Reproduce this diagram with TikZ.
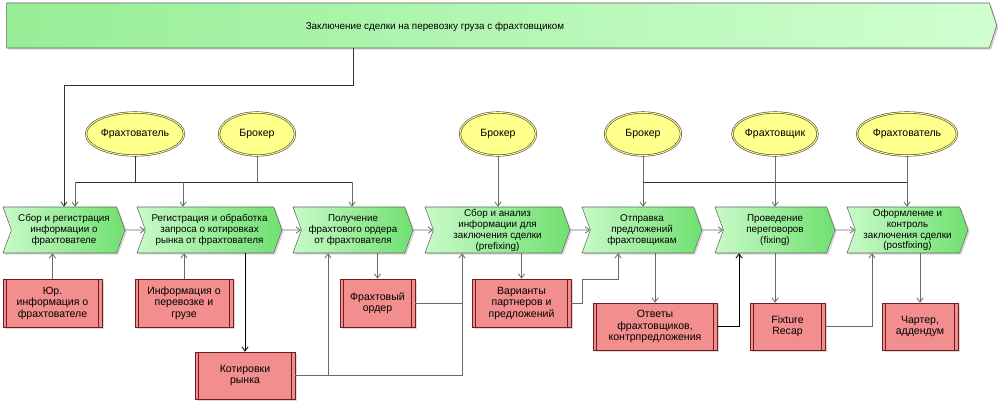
\documentclass[tikz,border=0pt]{standalone}
\usepackage{fontspec}
\setmainfont{Liberation Sans}
\usetikzlibrary{shapes,shapes.symbols,arrows.meta,positioning,calc,shadows}
\definecolor{bannerleft}{RGB}{150,238,150}
\definecolor{bannerright}{RGB}{208,255,208}
\definecolor{funcleft}{RGB}{200,250,200}
\definecolor{funcright}{RGB}{112,224,112}
\definecolor{actorfill}{RGB}{255,255,140}
\definecolor{datafill}{RGB}{242,142,142}
\definecolor{dataline}{RGB}{110,30,30}
\definecolor{linkgray}{RGB}{105,105,105}

\begin{document}
\begin{tikzpicture}[x=0.25mm, y=-0.25mm,
        txt/.style={font=\fontsize{7}{7.8}\selectfont},
        bigtxt/.style={font=\fontsize{7.5}{8.2}\selectfont},
        banner/.style={shape=signal, signal to=east, signal pointer angle=144, draw=black!60, left color=bannerleft, right color=bannerright, minimum width=247.5mm, minimum height=11.25mm, drop shadow={shadow xshift=1.2pt, shadow yshift=-1.2pt, fill=black!35}},
        func/.style={shape=signal, signal to=east, signal from=west, signal pointer angle=140, draw=black!60, left color=funcleft, right color=funcright, minimum height=11.5mm, inner sep=0.5pt, align=center, txt, drop shadow={shadow xshift=1.2pt, shadow yshift=-1.2pt, fill=black!30}},
        actor/.style={ellipse, draw=black!75, double=actorfill, double distance=0.7pt, fill=actorfill, minimum width=19mm, minimum height=10.75mm, inner sep=0pt, bigtxt},
        info/.style={rectangle, draw=dataline, fill=datafill, align=center, minimum height=12mm, inner sep=1pt, bigtxt, drop shadow={shadow xshift=1.2pt, shadow yshift=-1.2pt, fill=black!30},
            path picture={\draw[dataline] ([xshift=2.5pt]path picture bounding box.north west) -- ([xshift=2.5pt]path picture bounding box.south west);
                          \draw[dataline] ([xshift=-2.5pt]path picture bounding box.north east) -- ([xshift=-2.5pt]path picture bounding box.south east);}},
        arrow/.style={-{Straight Barb[length=3pt,width=4.5pt]}, linkgray, semithick},
        link/.style={linkgray, semithick}]

      \useasboundingbox (0,0) rectangle (998,405);

      % process header
      \node[banner] (banner) at (498,25.5) {};
      \node[txt] (title) at (435,26.5) {Заключение сделки на перевозку груза с фрахтовщиком};

      % actors
      \node[actor, minimum width=24.5mm] (act1) at (135,134) {Фрахтователь};
      \node[actor] (act2) at (257,134) {Брокер};
      \node[actor] (act3) at (498,134) {Брокер};
      \node[actor] (act4) at (643,134) {Брокер};
      \node[actor] (act5) at (775,134) {Фрахтовщик};
      \node[actor, minimum width=25mm] (act6) at (907,134) {Фрахтователь};

      % functions
      \node[func, minimum width=30.5mm] (box1) at (64,230) {Сбор и регистрация\\информации о\\фрахтователе};
      \node[func, minimum width=36.25mm] (box2) at (209.5,230) {Регистрация и обработка\\запроса о котировках\\рынка от фрахтователя};
      \node[func, minimum width=30mm] (box3) at (353,230) {Получение\\фрахтового ордера\\от фрахтователя};
      \node[func, minimum width=36.25mm] (box4) at (497.5,230) {Сбор и анализ\\информации для\\заключения сделки\\(prefixing)};
      \node[func, minimum width=30mm] (box5) at (642,230) {Отправка\\предложений\\фрахтовщикам};
      \node[func, minimum width=30mm] (box6) at (775,230) {Проведение\\переговоров\\(fixing)};
      \node[func, minimum width=30.25mm] (box7) at (907.5,230) {Оформление и\\контроль\\заключения сделки\\(postfixing)};

      % information carriers
      \node[info, minimum width=24.75mm] (d1) at (52.5,303) {Юр.\\информация о\\фрахтователе};
      \node[info, minimum width=24.5mm] (d2) at (184,303) {Информация о\\перевозке и\\грузе};
      \node[info, minimum width=18.75mm] (d3) at (377.5,303) {Фрахтовый\\ордер};
      \node[info, minimum width=25mm, minimum height=11.75mm] (d4) at (245,375.5) {Котировки\\рынка};
      \node[info, minimum width=24.75mm] (d5) at (521.5,303) {Варианты\\партнеров и\\предложений};
      \node[info, minimum width=31mm, minimum height=11.75mm] (d6) at (655,326.5) {Ответы\\фрахтовщиков,\\контрпредложения};
      \node[info, minimum width=18.75mm, minimum height=11.75mm] (d7) at (787.5,326.5) {Fixture\\Recap};
      \node[info, minimum width=19mm, minimum height=11.75mm] (d8) at (920,326.5) {Чартер,\\аддендум};

      \coordinate (drop) at (353,48);
      \coordinate (busA) at (75,182);
      \coordinate (busA2) at (183,182);
      \coordinate (busB) at (352,182);
      \coordinate (busC) at (643,182);
      \coordinate (busD) at (907,182);
      \coordinate (qA) at (328,0);
      \coordinate (qB) at (462,0);
      \coordinate (pB) at (618,279);
      \coordinate (nB) at (739,0);
      \coordinate (rB) at (872,0);

      % header to first function
      \draw[arrow, black!80] (banner.south -| drop) -- ++(0,37) -| (box1.north);

      % actors to functions
      \draw[link, black!80] (act1.south) -- (act1.south |- busA);
      \draw[link] (act2.south) -- (act2.south |- busA);
      \draw[link, black!80] (busA) -- (busB);
      \draw[arrow] (busA) -- (busA |- box1.north);
      \draw[arrow] (busA2) -- (busA2 |- box2.north);
      \draw[arrow] (busB) -- (busB |- box3.north);
      \draw[arrow] (act3.south) -- (act3.south |- box4.north);
      \draw[arrow] (act4.south) -- (act4.south |- box5.north);
      \draw[link, black!80] (busC) -- (busD);
      \draw[arrow] (act5.south) -- (act5.south |- box6.north);
      \draw[arrow] (act6.south) -- (act6.south |- box7.north);

      % control flow
      \foreach \a/\b in {box1/box2, box2/box3, box3/box4, box4/box5, box5/box6, box6/box7}
        \draw[arrow] (\a) -- (\b);

      % inputs and outputs
      \draw[arrow] (d1) -- (d1 |- box1.south);
      \draw[arrow] (d2) -- (d2 |- box2.south);
      \draw[arrow, black] (box2.south -| d4.north) -- (d4.north);
      \draw[arrow] (d4.east) -| (qB |- box4.south);
      \draw[arrow] (d4.east -| qA) -- (qA |- box3.south);
      \draw[arrow] (box3.south -| d3.north) -- (d3.north);
      \draw[link] (d3.east) -- (d3.east -| qB);
      \draw[arrow] (box4.south -| d5.north) -- (d5.north);
      \draw[arrow] (d5.east) -- ++(11,0) |- (pB) -- (pB |- box5.south);
      \draw[arrow] (box5.south -| d6.north) -- (d6.north);
      \draw[arrow, black] (d6.east) -| (nB |- box6.south);
      \draw[arrow] (box6.south) -- (box6.south |- d7.north);
      \draw[arrow] (d7.east) -| (rB |- box7.south);
      \draw[arrow] (box7.south -| d8.north) -- (d8.north);
    \end{tikzpicture}
\end{document}
